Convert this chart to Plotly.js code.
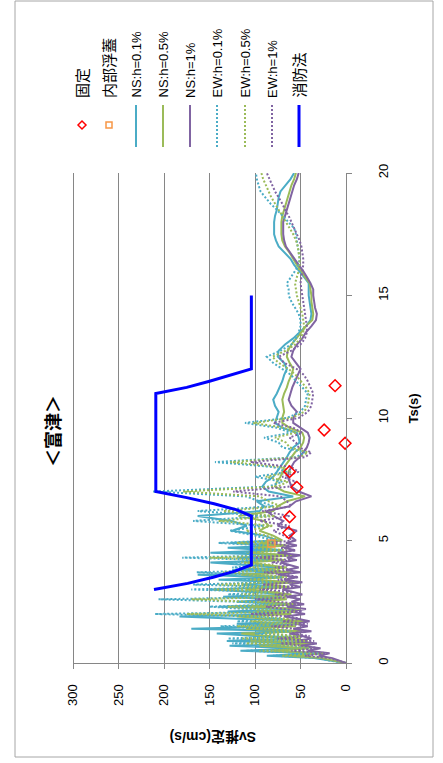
<!DOCTYPE html>
<html>
<head>
<meta charset="utf-8">
<script src="https://cdn.plot.ly/plotly-3.0.1.min.js"></script>
<style>html,body{margin:0;padding:0;background:#fff;}#chart{width:443px;height:763px;}</style>
</head>
<body>
<div id="chart"></div>
<script>
// ---- data ----
const ts = [
 0,0.1,0.2,0.3,0.4,0.5,0.6,0.7,0.8,0.9,
 1,1.1,1.2,1.3,1.4,1.5,1.6,1.7,1.8,1.9,
 2,2.1,2.2,2.3,2.4,2.5,2.6,2.7,2.8,2.9,
 3,3.1,3.2,3.3,3.4,3.5,3.6,3.7,3.8,3.9,
 4,4.1,4.2,4.3,4.4,4.5,4.6,4.7,4.8,4.9,
 5,
 5.2,5.4,5.6,5.8,6,6.2,6.4,6.6,6.8,7,
 7.2,7.4,7.6,7.8,8,8.2,8.4,8.6,8.8,9,
 9.2,9.4,9.6,9.8,10,
 10.25,10.5,10.75,11,11.25,11.5,11.75,12,12.25,12.5,
 12.75,13,13.25,13.5,13.75,14,14.25,14.5,14.75,15,
 15.25,15.5,15.75,16,16.25,16.5,16.75,17,17.25,17.5,
 17.75,18,18.25,18.5,18.75,19,19.25,19.5,19.75,20
];
const svNS01 = [
 0,20,35,87,30,116,45,128,40,131,
 60,100,142,55,170,60,120,45,110,183,
 70,130,55,140,60,120,75,135,65,100,
 150,70,115,60,140,80,163,65,125,70,
 110,149,75,120,60,149,80,130,70,127,
 75,
 90,125,109,126,163,95,90,98,58,85,
 92,88,80,76,72,69,65,62,58,51,
 52,54,70,78,76,
 74,78,80,76,73,70,68,65,68,75,
 74,67,58,51,44,39,38,39,40,41,
 41,41,46,52,57,61,68,74,77,79,
 79,79,78,76,75,74,72,66,61,57
];
const svNS05 = [
 0,15,28,60,25,80,40,95,38,105,
 50,85,115,48,110,55,95,45,85,120,
 60,100,50,105,55,95,65,100,60,85,
 110,62,90,55,105,70,115,60,95,65,
 90,110,68,95,58,110,72,100,65,95,
 70,
 80,95,85,90,118,80,75,65,45,68,
 78,76,72,70,68,64,60,56,50,47,
 46,48,62,70,70,
 68,69,70,68,65,63,60,58,62,65,
 64,60,54,49,44,37,36,37,38,38,
 39,40,45,49,54,58,62,67,70,71,
 71,71,70,68,66,64,62,60,57,55
];
const svNS1 = [
 0,8,15,30,18,42,28,50,32,55,
 38,48,62,38,58,42,55,40,52,68,
 45,62,44,65,46,60,50,65,48,58,
 70,50,62,48,68,54,75,50,66,52,
 62,72,54,65,50,75,56,68,54,66,
 55,
 62,54,75,69,80,87,62,55,38,52,
 60,62,64,63,60,57,51,47,43,41,
 40,42,50,58,58,
 54,60,63,61,59,56,53,50,55,60,
 58,54,48,44,38,33,32,34,35,36,
 36,39,43,47,52,57,62,66,68,69,
 69,69,67,65,63,61,59,57,54,52
];
const svEW01 = [
 0,18,30,80,28,110,40,60,125,45,
 130,55,100,60,90,138,55,120,70,100,
 210,60,110,150,65,120,206,70,130,85,
 170,75,168,80,120,70,100,164,80,125,
 90,130,85,180,75,120,70,110,90,140,
 80,
 100,128,90,168,85,163,80,95,110,212,
 85,70,100,65,80,144,55,45,70,74,
 90,60,76,111,65,
 50,45,44,42,48,55,60,70,80,87,
 72,60,55,52,50,50,52,56,60,63,
 63,65,60,56,52,51,52,53,54,55,
 57,63,69,76,83,88,94,96,98,99
];
const svEW05 = [
 0,15,26,70,25,95,38,55,110,42,
 115,50,90,55,80,120,50,105,62,90,
 175,55,100,130,60,105,170,65,115,75,
 145,68,140,72,105,65,90,135,72,110,
 80,115,78,150,68,105,65,100,80,120,
 72,
 88,110,80,140,78,135,72,85,95,179,
 75,64,88,60,72,127,50,42,62,66,
 78,55,68,102,60,
 46,42,41,40,44,50,55,63,74,81,
 66,56,50,47,46,47,48,50,52,54,
 55,56,54,52,51,51,52,53,55,58,
 62,66,70,74,78,82,85,88,91,93
];
const svEW1 = [
 0,10,18,45,20,60,30,45,72,35,
 75,40,62,42,58,82,42,70,50,62,
 105,48,70,88,50,72,100,54,78,58,
 95,55,92,58,75,52,65,90,58,78,
 62,82,60,100,56,75,55,72,62,85,
 58,
 68,80,62,95,62,92,60,65,72,124,
 62,55,70,52,60,105,45,38,52,55,
 62,48,58,80,52,
 42,38,37,36,39,42,46,54,68,74,
 60,50,45,43,43,44,45,46,47,48,
 49,50,49,48,47,47,48,49,51,54,
 57,60,63,67,70,74,78,81,84,87
];
const tsFire = [3,3.25,3.5,3.75,4,6,6.25,6.5,6.75,7,11,11.25,11.5,11.75,12,15];
const svFire = [211,174,146,122,104,104,120,145,175,209,209,175,150,127,104,104];
const tsFixed = [5.32,5.97,7.17,7.81,8.97,9.51,11.32];
const svFixed = [63,62,54,62,1,24,12];
const tsFloat = [4.88];
const svFloat = [82];
const svTicks = [0,50,100,150,200,250,300];
const tsTicks = [0,5,10,15,20];
const names = ['固定','内部浮蓋','NS:h=0.1%','NS:h=0.5%','NS:h=1%','EW:h=0.1%','EW:h=0.5%','EW:h=1%','消防法'];
const colors = ['#ff0000','#f79646','#4bacc6','#9bbb59','#8064a2','#4bacc6','#9bbb59','#8064a2','#0000ff'];

// ---- layout helpers ----
const PL=73, PR=346, PT=173, PB=663;
const fx = p => (p-PL)/(PR-PL);
const fy = p => (PB-p)/(PB-PT);
const FONT = 'Liberation Sans, Noto Sans CJK JP, sans-serif';
const GRAY = '#868686';
const DOT = '2px,2px';

function line(y, x, name, color, dash, width){
  return {type:'scatter', mode:'lines', x:x, y:y, name:name,
    line:{color:color, width:width, dash:dash}, showlegend:false, cliponaxis:false};
}
const traces = [
  line(ts, svNS01, names[2], colors[2], 'solid', 2),
  line(ts, svNS05, names[3], colors[3], 'solid', 2),
  line(ts, svNS1, names[4], colors[4], 'solid', 2),
  line(ts, svEW01, names[5], colors[5], DOT, 2),
  line(ts, svEW05, names[6], colors[6], DOT, 2),
  line(ts, svEW1, names[7], colors[7], DOT, 2),
  line(tsFire, svFire, names[8], colors[8], 'solid', 3),
  {type:'scatter', mode:'markers', x:svFixed, y:tsFixed, name:names[0], showlegend:false, cliponaxis:false,
   marker:{symbol:'diamond-open', size:9, color:colors[0], line:{width:1.5, color:colors[0]}}},
  {type:'scatter', mode:'markers', x:svFloat, y:tsFloat, name:names[1], showlegend:false, cliponaxis:false,
   marker:{symbol:'square-open', size:7, color:colors[1], line:{width:1.5, color:colors[1]}}}
];

// manual rotated legend
const legX = [82,109,136,163,190,217,245,272,299];
const shapes = [];
const annotations = [];
names.forEach((n,i)=>{
  const cx = legX[i];
  if(i===0){
    shapes.push({type:'path', xref:'paper', yref:'paper',
      path:`M ${fx(cx-4)} ${fy(125)} L ${fx(cx)} ${fy(121)} L ${fx(cx+4)} ${fy(125)} L ${fx(cx)} ${fy(129)} Z`,
      line:{color:colors[i], width:1.5}});
  } else if(i===1){
    shapes.push({type:'rect', xref:'paper', yref:'paper', x0:fx(cx-3), x1:fx(cx+3), y0:fy(128), y1:fy(122),
      line:{color:colors[i], width:1.5}});
  } else {
    shapes.push({type:'line', xref:'paper', yref:'paper', x0:fx(cx), x1:fx(cx), y0:fy(105), y1:fy(147),
      line:{color:colors[i], width:i===8?3:2, dash:(i>=5&&i<=7)?DOT:'solid'}});
  }
  const cjk = /[^\x00-\x7f]/.test(n);
  annotations.push({xref:'paper', yref:'paper', x:fx(cx), y:fy(100), xanchor:'center', yanchor:'bottom',
    text:n, textangle:-90, showarrow:false, font:{family:FONT, size:cjk?15:13, color:'#000'}});
});
// gridline at the far (300) edge of the Sv axis
shapes.push({type:'line', xref:'paper', yref:'paper', x0:fx(73.5), x1:fx(73.5), y0:0, y1:1,
  line:{color:GRAY, width:1}, layer:'above'});
// chart-area border
shapes.push({type:'rect', xref:'paper', yref:'paper', x0:fx(15), x1:fx(433), y0:fy(757), y1:fy(1),
  line:{color:'#a6a6a6', width:1}, layer:'below'});
// titles
annotations.push({xref:'paper', yref:'paper', x:fx(42), y:fy(431), text:'<b>＜富津＞</b>', textangle:-90,
  showarrow:false, font:{family:FONT, size:18, color:'#000'}});
annotations.push({xref:'paper', yref:'paper', x:fx(213), y:fy(747), text:'<b>Sv推定(cm/s)</b>', textangle:180,
  showarrow:false, font:{family:FONT, size:14, color:'#000'}});
annotations.push({xref:'paper', yref:'paper', x:fx(422), y:fy(409), text:'<b>Ts(s)</b>', textangle:-90,
  showarrow:false, font:{family:FONT, size:13, color:'#000'}});

const layout = {
  width:443, height:763,
  margin:{l:PL, r:443-PR, t:PT, b:763-PB, pad:0},
  paper_bgcolor:'#fff', plot_bgcolor:'#fff',
  showlegend:false,
  font:{family:FONT, size:13, color:'#000'},
  xaxis:{range:[300,0], tickvals:svTicks, ticktext:svTicks.map(String), ticks:'outside', ticklen:5,
    tickcolor:GRAY, showline:true, linecolor:GRAY, linewidth:1, showgrid:true, gridcolor:GRAY, gridwidth:1,
    zeroline:false, tickangle:-90, ticklabelstandoff:10, tickfont:{size:13, color:'#000'}, fixedrange:true},
  yaxis:{range:[0,20], side:'right', tickvals:tsTicks, ticktext:tsTicks.map(String), ticks:'outside', ticklen:5,
    tickcolor:GRAY, showline:true, linecolor:GRAY, linewidth:1, showgrid:false, zeroline:false,
    tickangle:-90, ticklabelstandoff:20, tickfont:{size:13, color:'#000'}, fixedrange:true},
  shapes:shapes,
  annotations:annotations
};
Plotly.newPlot('chart', traces, layout, {staticPlot:true, displayModeBar:false});
</script>
</body>
</html>
